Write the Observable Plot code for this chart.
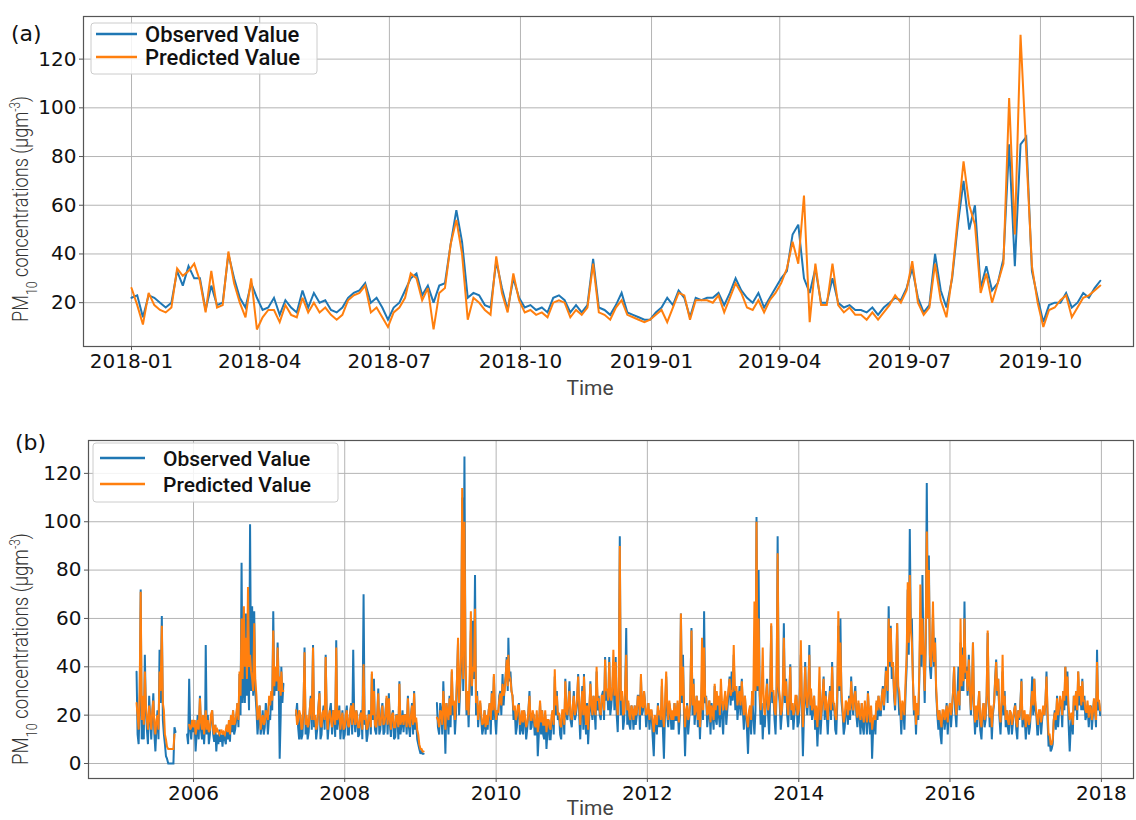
<!DOCTYPE html>
<html><head><meta charset="utf-8">
<script src="https://cdn.jsdelivr.net/npm/d3@7"></script>
<script src="https://cdn.jsdelivr.net/npm/@observablehq/plot@0.6"></script>
<style>
body{margin:0;background:#fff;width:1136px;height:820px;overflow:hidden;position:relative}
#a,#b{position:absolute;left:0}
#a{top:0}#b{top:415px}
</style></head><body>
<div id="a"></div><div id="b"></div>
<script>
// ---------- Panel (a): 2018-01-01 onward, one value every 4 days ----------
const startA = "2018-01-01";
const stepA = 4;
const obsA = [22,23,14,23,22,20,18,20,33,27, 35,30,30,17,27,19,20,40,30,22,
  18,28,22,17,18,22,15,21,18,16, 25,18,24,20,21,17,16,18,22,24,
  25,28,20,22,18,13,18, 20,25,30,32,23,27,20,27,28,44,
  58,45,22,24,23,19,18,37,26,17, 30,22,18,19,17,18,16,22,23,21,
  16,19,16,19,38,18,17,15,19,24, 16,15,14,13,13,16,18,22,19,25,
  22,14,22,21,22,22,24,19,24,30, 25,22,20,24,18,22,26,
  30,33,48,52,30,24,34,20,20,30, 20,18,19,17,17,16,18,15,18,20,
  22,21,26,34,22,16,19,40,25,18, 30,52,70,50,60,26,35,25,28,38,
  85,35,85,88,33,22,12,19,20,20, 24,18,20,24,22,26,29];
const predA = [26,19,11,24,19,17,16,18,34,31, 33,36,29,16,33,18,19,41,28,20,
  14,30,9,14,17,17,12,19,15,14, 22,16,20,16,18,15,13,15,21,23,
  24,27,16,18,14,10,16, 18,22,32,30,21,26,9,24,26,44,
  54,40,13,22,20,17,15,39,24,16, 32,21,16,17,15,16,14,20,21,20,
  14,17,15,18,36,16,15,13,18,21, 15,14,13,12,13,15,17,12,18,24,
  23,13,21,21,21,20,23,16,22,28, 24,18,17,21,16,21,24,
  28,34,45,36,64,12,36,19,19,36, 19,16,18,15,15,13,16,13,16,19,
  23,20,25,37,20,15,18,36,21,14, 31,55,78,60,52,24,32,20,28,36,
  104,48,130,82,35,20,10,17,18,21, 23,14,18,22,23,25,27];
const ticksA = ["2018-01","2018-04","2018-07","2018-10","2019-01","2019-04","2019-07","2019-10"];
const yTicksA = [20,40,60,80,100,120];

// ---------- Panel (b): values on days 1, 11, 21 of each month ----------
const yearsB = [2005,2006,2007,2008,2009,2010,2011,2012,2013,2014,2015,2016,2017];
const obsB2005 = [null,null,null,null,null,null,null,null,null, 38,8,72, 20,45,14, 28,10,29, 5,22,47, 61,12,3, 0,0,0, 15,null,null, null,null,null, 12,35,10];
const predB2005 = [null,null,null,null,null,null,null,null,null, 25,14,71, 28,38,18, 24,14,26, 12,20,38, 57,22,10, 6,6,6, 12,null,null, null,null,null, null,16,15];
const obsB2006 = [13,5,20, 28,10,8, 49,20,12, 22,9,5, 8,9,7, 10,16,14, 20,22,14, 25,37,83, 45,62,40, 99,65,63, 22,18,12, 22,15,22];
const predB2006 = [15,12,18, 27,14,12, 22,18,14, 22,12,13, 13,13,12, 12,16,18, 20,22,17, 25,38,60, 65,52,73, 45,35,58, 28,20,14, 20,17,20];
const obsB2007 = [20,28,63, 38,50,2, 40,33,null, null,null,null, null,20,15, 20,12,48, 18,13,28, 49,20,14, 30,12,24, 45,10,22, 12,20,51, 18,10,22];
const predB2007 = [28,30,55, 40,48,36, 38,30,null, null,null,null, null,22,18, 20,15,46, 20,16,27, 48,20,16, 29,15,22, 44,14,22, 15,20,48, 20,14,21];
const obsB2008 = [12,24,12, 25,47,13, 20,12,22, 70,18,12, 20,37,35, 12,31,14, 25,13,27, 29,11,22, 11,20,34, 16,13,20, 28,11,25, 30,17,8];
const predB2008 = [15,22,15, 24,25,16, 19,15,21, 41,20,15, 20,38,30, 15,29,16, 24,17,28, 27,14,21, 15,19,33, 18,16,20, 27,15,24, 29,19,12];
const obsB2009 = [4,4,null, null,null,null, null,null,25, 12,22,34, 4,20,28, 38,25,20, 50,30,110, 127,20,15, 55,59,78, 30,22,18, 15,12,14, 25,30,36];
const predB2009 = [6,5,null, null,null,null, null,null,19, 15,21,30, 14,21,27, 39,26,24, 52,35,114, 100,22,20, 63,40,64, 28,22,20, 17,15,16, 25,29,37];
const obsB2010 = [12,20,30, 37,32,44, 52,38,28, 22,15,25, 14,12,18, 15,30,15, 20,12,3, 25,22,10, 6,18,10, 22,36,30, 20,10,22, 35,18,34];
const predB2010 = [18,21,29, 33,30,43, 45,35,28, 24,20,24, 18,17,19, 17,28,18, 20,15,13, 26,22,16, 13,18,14, 22,39,28, 21,15,22, 34,20,30];
const obsB2011 = [15,30,20, 37,10,32, 37,12,8, 34,18,22, 38,28,18, 30,44,30, 44,24,40, 44,13,94, 28,18,56, 25,14,22, 24,20,28, 36,22,25];
const predB2011 = [18,28,22, 36,16,30, 36,16,14, 33,20,23, 40,27,20, 28,43,31, 42,26,47, 42,20,90, 30,21,45, 26,18,22, 24,21,27, 37,23,25];
const obsB2012 = [20,14,22, 3,16,25, 20,32,2, 36,15,22, 21,25,18, 12,62,45, 3,25,18, 56,35,22, 15,10,35, 63,28,20, 12,20,32, 16,20,30];
const predB2012 = [21,18,22, 13,18,24, 22,35,15, 38,18,22, 22,25,20, 17,62,40, 15,24,20, 55,33,22, 18,15,52, 48,27,21, 17,21,33, 30,28,35];
const obsB2013 = [12,28,22, 36,38,45, 22,18,32, 35,14,20, 4,22,30, 12,102,80, 16,10,15, 35,12,57, 28,12,94, 25,20,58, 35,15,41, 25,20,28];
const predB2013 = [22,30,26, 35,30,49, 30,24,30, 34,20,22, 15,24,30, 67,100,60, 22,48,20, 33,25,58, 30,20,87, 28,22,52, 34,20,40, 25,22,28];
const obsB2014 = [17,45,3, 42,20,49, 30,22,14, 7,25,20, 36,30,12, 32,42,25, 12,57,60, 20,15,25, 28,36,20, 32,15,20, 25,12,20, 30,12,2];
const predB2014 = [22,51,15, 40,23,45, 31,24,18, 15,40,22, 35,28,18, 30,40,24, 18,63,50, 22,20,25, 27,34,22, 30,19,21, 25,17,21, 29,17,14];
const obsB2015 = [18,25,28, 20,32,30, 38,65,57, 40,22,58, 20,12,22, 30,72,97, 60,20,12, 18,60,78, 25,116,86, 35,62,52, 20,22,8, 22,18,12];
const predB2015 = [20,26,28, 22,31,30, 38,60,56, 42,24,58, 30,18,24, 35,75,78, 50,22,16, 20,74,60, 30,96,80, 40,67,50, 22,22,15, 22,20,17];
const obsB2016 = [25,22,40, 15,40,50, 48,67,40, 45,20,50, 12,15,30, 10,25,18, 54,15,10, 25,43,35, 12,38,30, 22,12,20, 18,25,10, 18,35,18];
const predB2016 = [25,24,40, 20,30,60, 45,60,38, 43,22,50, 17,18,30, 15,25,20, 55,19,15, 25,42,35, 17,45,28, 22,16,21, 19,24,15, 19,34,20];
const obsB2017 = [10,20,15, 36,35,20, 12,22,18, 20,38,7, 5,8,22, 28,22,25, 30,40,38, 5,20,28, 30,38,32, 35,28,20, 15,24,20, 22,47,25];
const predB2017 = [15,20,18, 30,35,21, 16,22,20, 20,36,12, 8,10,21, 27,23,25, 30,40,36, 18,21,28, 30,38,32, 34,26,21, 19,23,21, 22,42,26];

// Panel (b): in-between readings on days 6, 16, 26 of each month
const obsBm2005 = [null,null,null,null,null,null,null,null,null, 12,24,10, 10,22,8, 18,20,12, 15,10,25, 18,8,2, 0,0,0, 13,null,null, null,null,null, 8,14,18];
const predBm2005 = [null,null,null,null,null,null,null,null,null, 20,30,18, 16,24,14, 18,22,16, 18,14,30, 25,12,7, 6,6,6, null,null,null, null,null,null, null,14,18];
const obsBm2006 = [18,12,10, 14,18,16, 12,8,18, 12,16,12, 14,12,13, 8,10,9, 13,12,18, 15,20,25, 25,28,22, 30,28,30, 12,24,15, 12,25,12];
const predBm2006 = [18,15,14, 17,20,18, 14,13,20, 14,16,14, 12,14,13, 14,13,12, 16,16,20, 18,28,35, 40,35,40, 38,30,35, 18,24,18, 16,22,18];
const obsBm2007 = [18,22,28, 30,35,20, 25,null,null, null,null,null, null,25,10, 10,22,12, 10,22,14, 15,10,22, 10,20,14, 20,16,25, 22,11,14, 24,16,10];
const predBm2007 = [24,26,32, 34,30,28, 30,null,null, null,null,null, null,16,22, 14,24,16, 15,22,18, 18,14,22, 16,21,18, 20,20,18, 22,16,18, 22,18,14];
const obsBm2008 = [20,12,20, 12,18,22, 11,20,10, 16,9,22, 12,18,14, 20,12,22, 12,22,12, 16,20,10, 20,10,12, 22,20,12, 15,20,12, 14,10,6];
const predBm2008 = [20,16,20, 16,20,22, 15,20,14, 18,14,20, 15,20,16, 20,16,20, 16,20,16, 18,20,15, 20,15,16, 20,20,15, 17,20,16, 17,14,8];
const obsBm2009 = [5,4,null, null,null,null, null,null,15, 25,12,20, 25,12,15, 20,12,35, 20,40,30, 40,30,30, 28,35,20, 15,25,12, 22,20,22, 12,18,20];
const predBm2009 = [6,5,null, null,null,null, null,null,18, 22,16,22, 25,18,20, 24,18,35, 25,45,35, 45,30,35, 32,38,25, 18,26,16, 22,20,22, 18,22,24];
const obsBm2010 = [22,28,20, 24,36,30, 34,30,18, 12,22,12, 20,22,10, 22,14,20, 12,20,12, 12,12,20, 14,10,18, 12,20,18, 12,20,12, 20,25,18];
const predBm2010 = [22,26,24, 28,36,32, 36,30,22, 18,24,16, 22,22,15, 22,18,22, 16,22,16, 17,16,22, 18,15,20, 16,24,20, 16,22,16, 22,26,20];
const obsBm2011 = [22,18,24, 20,22,14, 20,25,18, 22,28,14, 22,20,28, 18,26,22, 20,30,22, 20,30,20, 14,30,16, 16,24,14, 16,28,14, 20,30,15];
const predBm2011 = [24,20,26, 24,24,20, 24,24,22, 24,28,20, 26,22,28, 22,30,26, 28,32,28, 26,32,26, 20,32,22, 20,24,18, 20,28,20, 24,30,20];
const obsBm2012 = [25,20,12, 18,12,15, 15,14,20, 20,25,14, 14,18,25, 20,25,20, 18,12,25, 20,16,28, 25,22,18, 25,15,26, 25,14,18, 26,15,20];
const predBm2012 = [25,22,18, 20,16,20, 18,20,24, 24,26,18, 18,20,26, 24,28,24, 22,18,26, 24,20,28, 26,24,22, 28,20,26, 24,18,22, 24,20,26];
const obsBm2013 = [24,16,28, 24,26,28, 30,24,20, 22,28,14, 18,12,20, 22,30,28, 25,20,25, 20,28,25, 18,30,30, 14,28,25, 20,26,18, 14,25,15];
const predBm2013 = [26,22,30, 28,30,32, 32,28,24, 26,28,18, 22,18,24, 30,32,30, 30,24,28, 22,30,30, 22,32,32, 20,30,28, 24,28,22, 20,28,20];
const obsBm2014 = [28,22,20, 25,28,20, 18,28,22, 18,12,28, 18,20,22, 18,22,14, 25,30,26, 12,22,16, 18,24,28, 20,25,12, 15,24,12, 18,22,14];
const predBm2014 = [28,26,24, 28,30,24, 22,28,24, 24,18,28, 22,24,26, 22,26,20, 30,32,30, 17,26,20, 22,26,28, 22,26,18, 20,26,17, 22,24,18];
const obsBm2015 = [12,18,20, 28,22,40, 25,40,35, 28,35,30, 22,24,14, 40,45,55, 35,25,25, 35,40,45, 50,60,40, 45,40,30, 14,12,20, 14,25,20];
const predBm2015 = [18,22,24, 28,24,38, 30,42,40, 30,38,32, 24,26,20, 45,50,55, 35,28,25, 38,45,45, 55,60,45, 48,42,32, 18,18,22, 18,24,22];
const obsBm2016 = [15,30,22, 28,22,30, 30,35,28, 30,28,22, 22,22,14, 20,15,28, 25,22,20, 35,28,20, 22,20,15, 15,22,12, 22,14,22, 25,15,20];
const predBm2016 = [20,30,26, 28,24,32, 34,38,30, 32,30,24, 24,24,18, 22,18,28, 28,24,22, 34,30,22, 26,24,18, 18,22,16, 22,17,22, 24,18,22];
const obsBm2017 = [18,12,22, 20,22,12, 20,12,22, 25,18,10, 6,18,14, 15,26,15, 22,24,18, 15,12,22, 18,24,22, 22,18,24, 22,14,26, 15,22,20];
const predBm2017 = [20,16,24, 24,26,18, 22,17,24, 26,22,12, 8,18,18, 20,28,20, 26,28,24, 20,16,24, 22,28,24, 26,22,26, 24,18,27, 18,26,22];

const obsBYears = [obsB2005,obsB2006,obsB2007,obsB2008,obsB2009,obsB2010,obsB2011,obsB2012,obsB2013,obsB2014,obsB2015,obsB2016,obsB2017];
const predBYears = [predB2005,predB2006,predB2007,predB2008,predB2009,predB2010,predB2011,predB2012,predB2013,predB2014,predB2015,predB2016,predB2017];
const obsBmYears = [obsBm2005,obsBm2006,obsBm2007,obsBm2008,obsBm2009,obsBm2010,obsBm2011,obsBm2012,obsBm2013,obsBm2014,obsBm2015,obsBm2016,obsBm2017];
const predBmYears = [predBm2005,predBm2006,predBm2007,predBm2008,predBm2009,predBm2010,predBm2011,predBm2012,predBm2013,predBm2014,predBm2015,predBm2016,predBm2017];
const ticksB = [2006,2008,2010,2012,2014,2016,2018];
const yTicksB = [0,20,40,60,80,100,120];

const BLUE = "#1f77b4", ORANGE = "#ff7f0e", GRID = "#b4b4b4";

// ---------- build rows ----------
const t0 = Date.parse(startA + "T00:00:00Z");
const rowsA = obsA.map((v, i) => ({date: new Date(t0 + i * stepA * 864e5), obs: v, pred: predA[i]}));
const rowsB = [];
yearsB.forEach((y, yi) => {
  for (let k = 0; k < 36; k++) {
    const m = Math.floor(k / 3), d = 1 + 10 * (k % 3);
    rowsB.push({date: new Date(Date.UTC(y, m, d)), obs: obsBYears[yi][k], pred: predBYears[yi][k]});
    rowsB.push({date: new Date(Date.UTC(y, m, d + 5)), obs: obsBmYears[yi][k], pred: predBmYears[yi][k]});
  }
});
const tickDatesA = ticksA.map(s => new Date(s + "-01T00:00:00Z"));
const tickDatesB = ticksB.map(y => new Date(Date.UTC(y, 0, 1)));

function basePlot(opts) {
  return Plot.plot({
    width: 1136, height: opts.height,
    marginLeft: opts.ml, marginRight: 3, marginTop: opts.mt, marginBottom: opts.mb,
    style: {fontFamily: "DejaVu Sans", fontSize: "20px", color: "#111", background: "white", overflow: "visible"},
    x: {type: "utc", domain: opts.xdom, label: null},
    y: {domain: opts.ydom, label: null},
    marks: [
      Plot.gridX(opts.xt, {stroke: GRID, strokeOpacity: 1, strokeWidth: 1}),
      Plot.gridY(opts.yt, {stroke: GRID, strokeOpacity: 1, strokeWidth: 1}),
      Plot.lineY(opts.rows, {x: "date", y: "obs", stroke: BLUE, strokeWidth: opts.sw, strokeLinejoin: "miter", strokeMiterlimit: 3}),
      Plot.lineY(opts.rows, {x: "date", y: "pred", stroke: ORANGE, strokeWidth: opts.sw, strokeLinejoin: "miter", strokeMiterlimit: 3}),
      Plot.frame({stroke: "#555", strokeWidth: 1.2}),
      Plot.axisX(opts.xt, {tickFormat: opts.fmt, tickSize: 4, tickPadding: 3, stroke: "#555", label: null}),
      Plot.axisY(opts.yt, {tickSize: 4, tickPadding: 3, stroke: "#555", label: null})
    ]
  });
}

function decorate(svg, o) {
  svg.append("text").attr("x", o.tagX).attr("y", o.tagY).attr("text-anchor", "start")
    .attr("font-family", "DejaVu Sans").attr("font-size", 22).attr("fill", "#111").text(o.tag);
  const g = svg.append("g");
  g.append("rect").attr("x", o.lx).attr("y", o.ly).attr("width", o.lw).attr("height", o.lh)
    .attr("rx", 3).attr("fill", "white").attr("fill-opacity", 0.85).attr("stroke", "#cccccc");
  [[BLUE, "Observed Value", o.l1], [ORANGE, "Predicted Value", o.l2]].forEach(([c, s, yy]) => {
    g.append("line").attr("x1", o.sx1).attr("x2", o.sx2).attr("y1", yy).attr("y2", yy)
      .attr("stroke", c).attr("stroke-width", 2.6);
    g.append("text").attr("x", o.tx).attr("y", yy + o.tdy).attr("text-anchor", "start")
      .attr("font-family", "Roboto").attr("font-weight", 500).attr("font-size", o.fs)
      .attr("fill", "#111").text(s);
  });
  svg.append("text").attr("x", 590).attr("y", o.timeY).attr("text-anchor", "middle")
    .attr("font-family", "Roboto").attr("font-size", 21).attr("fill", "#444").text("Time");
  const t = svg.append("text").attr("font-family", "Roboto").attr("font-weight", 300)
    .attr("font-size", 22).attr("fill", "#333").attr("text-anchor", "middle");
  t.append("tspan").text("PM");
  t.append("tspan").attr("baseline-shift", "sub").attr("font-size", 15).text("10");
  t.append("tspan").text(" concentrations (μgm");
  t.append("tspan").attr("baseline-shift", "super").attr("font-size", 14).text("-3");
  t.append("tspan").text(")");
  const len = t.node().getComputedTextLength() || o.yLen;
  t.attr("transform", `translate(${o.yx},${o.yy}) rotate(-90) scale(${o.yLen / len},1)`);
}

const plotA = basePlot({
  height: 415, ml: 83, mt: 16, mb: 69, rows: rowsA, sw: 2,
  xdom: [new Date("2017-11-28T07:00:00Z"), new Date("2019-12-05T07:00:00Z")],
  ydom: [2, 137.5], xt: tickDatesA, yt: yTicksA, fmt: d3.utcFormat("%Y-%m")
});
document.getElementById("a").appendChild(plotA);
decorate(d3.select(plotA), {
  tag: "(a)", tagX: 11, tagY: 41,
  lx: 91, ly: 23, lw: 226, lh: 51, l1: 34, l2: 57, sx1: 96, sx2: 137, tx: 145, tdy: 8, fs: 22,
  timeY: 395, yx: 28, yy: 209, yLen: 226
});

const plotB = basePlot({
  height: 405, ml: 88, mt: 25, mb: 42, rows: rowsB, sw: 2,
  xdom: [new Date("2004-08-12T00:00:00Z"), new Date("2018-06-05T00:00:00Z")],
  ydom: [-6.2, 133.6], xt: tickDatesB, yt: yTicksB, fmt: d3.utcFormat("%Y")
});
document.getElementById("b").appendChild(plotB);
decorate(d3.select(plotB), {
  tag: "(b)", tagX: 15, tagY: 35,
  lx: 93, ly: 28, lw: 245, lh: 59, l1: 43, l2: 69, sx1: 100, sx2: 145, tx: 163, tdy: 8, fs: 21,
  timeY: 400, yx: 28, yy: 234, yLen: 232
});
</script>
</body></html>
